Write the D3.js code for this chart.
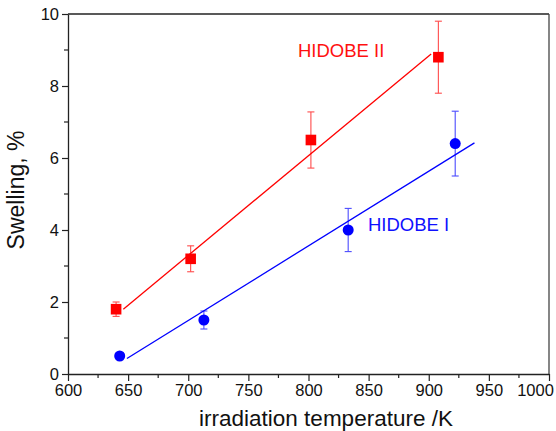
<!DOCTYPE html>
<html>
<head>
<meta charset="utf-8">
<script src="https://cdn.jsdelivr.net/npm/d3@7"></script>
<style>
  body { margin: 0; background: #fff; }
  text { font-family: Arial, "Liberation Sans", sans-serif; }
</style>
</head>
<body>
<div id="chart"></div>
<script>
// data
var redTemp = [640, 702, 802, 908];
var redSwell = [1.8, 3.2, 6.5, 8.8];
var redErr = [0.2, 0.36, 0.78, 1.0];
var blueTemp = [643, 713, 833, 922];
var blueSwell = [0.5, 1.5, 4.0, 6.4];
var blueErr = [0, 0.25, 0.6, 0.9];
// linear fit lines (end points)
var redFit = [[646, 1.8], [902, 8.89]];
var blueFit = [[649, 0.43], [938, 6.42]];
var xTicks = [600, 650, 700, 750, 800, 850, 900, 950, 1000];
var yTicks = [0, 2, 4, 6, 8, 10];

var W = 556, H = 431;
var margin = {top: 14, right: 7, bottom: 57, left: 68},
    width = W - margin.left - margin.right,
    height = H - margin.top - margin.bottom;

var svg = d3.select("#chart").append("svg")
    .attr("width", W).attr("height", H)
  .append("g")
    .attr("transform", "translate(" + margin.left + "," + margin.top + ")");

var x = d3.scaleLinear().domain([600, 1000]).range([0, width]);
var y = d3.scaleLinear().domain([0, 10]).range([height, 0]);

// frame top and right
svg.append("line").attr("x1", 0).attr("x2", width).attr("y1", 0).attr("y2", 0)
  .attr("stroke", "#222").attr("stroke-width", 1.3);
svg.append("line").attr("x1", width).attr("x2", width).attr("y1", 0).attr("y2", height)
  .attr("stroke", "#444").attr("stroke-width", 1.3);

// minor ticks
var xMinor = d3.range(625, 1000, 50);
var yMinor = d3.range(1, 10, 2);
svg.append("g").selectAll("line").data(xMinor).enter().append("line")
  .attr("x1", function(d) { return x(d); }).attr("x2", function(d) { return x(d); })
  .attr("y1", height).attr("y2", height + 4)
  .attr("stroke", "#222").attr("stroke-width", 1.2);
svg.append("g").selectAll("line").data(yMinor).enter().append("line")
  .attr("y1", function(d) { return y(d); }).attr("y2", function(d) { return y(d); })
  .attr("x1", 0).attr("x2", -4)
  .attr("stroke", "#222").attr("stroke-width", 1.2);

// axes
var xAxis = svg.append("g")
  .attr("transform", "translate(0," + height + ")")
  .call(d3.axisBottom(x).tickValues(xTicks).tickFormat(d3.format("d"))
    .tickSize(7).tickPadding(3).tickSizeOuter(0));
var yAxis = svg.append("g")
  .call(d3.axisLeft(y).tickValues(yTicks).tickFormat(d3.format("d"))
    .tickSize(6).tickPadding(3).tickSizeOuter(0));

[xAxis, yAxis].forEach(function(a) {
  a.select(".domain").attr("stroke", "#222").attr("stroke-width", 1.3);
  a.selectAll(".tick line").attr("stroke", "#222").attr("stroke-width", 1.2);
  a.selectAll(".tick text").attr("fill", "#111")
    .style("font-size", "16.5px").style("font-family", "Arial, 'Liberation Sans', sans-serif");
});
// last label pushed in so it fits
xAxis.selectAll(".tick text").filter(function(d) { return d === 1000; }).attr("dx", -14);
yAxis.selectAll(".tick text").attr("dy", "0.36em");

// fit lines
var line = d3.line().x(function(d) { return x(d[0]); }).y(function(d) { return y(d[1]); });
svg.append("path").datum(redFit).attr("d", line)
  .attr("fill", "none").attr("stroke", "#ff0000").attr("stroke-width", 1.3);
svg.append("path").datum(blueFit).attr("d", line)
  .attr("fill", "none").attr("stroke", "#0000ff").attr("stroke-width", 1.3);

// error bars
function errBars(temps, vals, errs, color) {
  var g = svg.append("g").attr("stroke", color).attr("stroke-width", 1.1).attr("opacity", 0.7);
  temps.forEach(function(t, i) {
    if (!errs[i]) return;
    var cx = x(t), top = y(vals[i] + errs[i]), bot = y(vals[i] - errs[i]);
    g.append("line").attr("x1", cx).attr("x2", cx).attr("y1", top).attr("y2", bot);
    g.append("line").attr("x1", cx - 3.5).attr("x2", cx + 3.5).attr("y1", top).attr("y2", top);
    g.append("line").attr("x1", cx - 3.5).attr("x2", cx + 3.5).attr("y1", bot).attr("y2", bot);
  });
}
errBars(redTemp, redSwell, redErr, "#ff0000");
errBars(blueTemp, blueSwell, blueErr, "#0000ff");

// markers
svg.append("g").selectAll("rect").data(redTemp).enter().append("rect")
  .attr("x", function(d) { return x(d) - 5.3; })
  .attr("y", function(d, i) { return y(redSwell[i]) - 5.3; })
  .attr("width", 10.6).attr("height", 10.6)
  .attr("fill", "#ff0000");
svg.append("g").selectAll("circle").data(blueTemp).enter().append("circle")
  .attr("cx", function(d) { return x(d); })
  .attr("cy", function(d, i) { return y(blueSwell[i]); })
  .attr("r", 5.5)
  .attr("fill", "#0000ff");

// series labels
svg.append("text").attr("x", 298 - margin.left).attr("y", 57 - margin.top)
  .text("HIDOBE II").attr("fill", "#ff1010").style("font-size", "18.5px");
svg.append("text").attr("x", 368 - margin.left).attr("y", 231 - margin.top)
  .text("HIDOBE I").attr("fill", "#1010ff").style("font-size", "18.5px");

// axis titles
svg.append("text")
  .attr("transform", "translate(" + (24 - margin.left) + "," + (190 - margin.top) + ") rotate(-90)")
  .attr("text-anchor", "middle").attr("fill", "#111")
  .style("font-size", "23px").text("Swelling, %");
svg.append("text")
  .attr("x", 326 - margin.left).attr("y", 426 - margin.top)
  .attr("text-anchor", "middle").attr("fill", "#111")
  .style("font-size", "22.5px").text("irradiation temperature /K");
</script>
</body>
</html>
